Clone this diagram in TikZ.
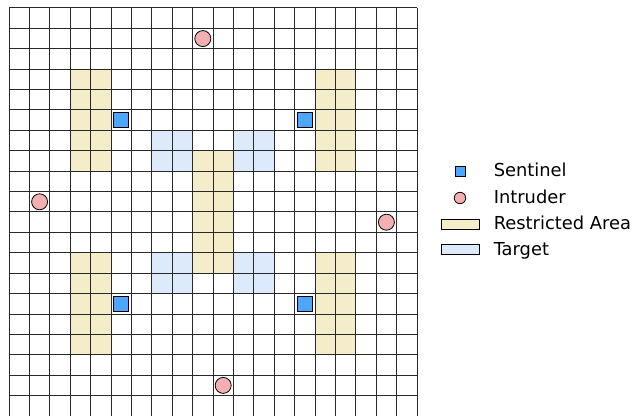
\documentclass[tikz,border=0pt]{standalone}
\usepackage{fontspec}
\setmainfont{DejaVu Sans}
\definecolor{restr}{RGB}{245,237,201}
\definecolor{targ}{RGB}{220,234,252}
\definecolor{sent}{RGB}{77,166,255}
\definecolor{intr}{RGB}{244,176,176}
\definecolor{gridc}{RGB}{40,40,40}
\begin{document}
\begin{tikzpicture}[x=0.75pt,y=-0.75pt,
  sentinel/.style={draw=black,fill=sent,line width=0.8pt,minimum size=11.6pt,inner sep=0pt,outer sep=0pt,rectangle},
  intruder/.style={draw=black,fill=intr,line width=0.6pt,minimum size=12pt,inner sep=0pt,circle},
  lsent/.style={sentinel,minimum size=7.6pt,line width=0.6pt},
  lintr/.style={intruder,minimum size=8.6pt},
  lpatch/.style={draw=black,line width=0.6pt,minimum width=28pt,minimum height=7.2pt,inner sep=0pt},
  ltext/.style={anchor=base west,inner sep=0pt,font=\fontsize{13.4}{16}\selectfont},
  gridline/.style={draw=gridc,line width=0.75pt}]
\useasboundingbox (0,0) rectangle (634,416);
\fill[white] (0,0) rectangle (634,416);
% cell size 20.4px, origin (9,8)
\def\cs{20.4}
% restricted areas
\foreach \c/\r/\w/\h in {3/3/2/5, 15/3/2/5, 9/7/2/6, 3/12/2/5, 15/12/2/5}{
  \fill[restr] ({9+\c*\cs},{8+\r*\cs}) rectangle ({9+(\c+\w)*\cs},{8+(\r+\h)*\cs});
}
% targets
\foreach \c/\r in {7/6, 11/6, 7/12, 11/12}{
  \fill[targ] ({9+\c*\cs},{8+\r*\cs}) rectangle ({9+(\c+2)*\cs},{8+(\r+2)*\cs});
}
% grid
\foreach \i in {0,...,20}{
  \draw[gridline] ({9+\i*\cs},8) -- ({9+\i*\cs},416);
  \draw[gridline] (9,{8+\i*\cs}) -- (417,{8+\i*\cs});
}
% sentinels
\node[sentinel] (s1) at ({9+5.5*\cs},{8+5.5*\cs}) {};
\node[sentinel] (s2) at ({9+14.5*\cs},{8+5.5*\cs}) {};
\node[sentinel] (s3) at ({9+5.5*\cs},{8+14.5*\cs}) {};
\node[sentinel] (s4) at ({9+14.5*\cs},{8+14.5*\cs}) {};
% intruders
\node[intruder] (i1) at ({9+9.5*\cs},{8+1.5*\cs}) {};
\node[intruder] (i2) at ({9+1.5*\cs},{8+9.5*\cs}) {};
\node[intruder] (i3) at ({9+18.5*\cs},{8+10.5*\cs}) {};
\node[intruder] (i4) at ({9+10.5*\cs},{8+18.5*\cs}) {};
% legend
\node[lsent] (ls) at (460,171) {};
\node[lintr] (li) at (460,198) {};
\node[lpatch,fill=restr] (lr) at (460.5,224.2) {};
\node[lpatch,fill=targ] (lt) at (460.5,249.7) {};
\node[ltext] (ts) at (493.5,177) {Sentinel};
\node[ltext] (ti) at (493.5,203.3) {Intruder};
\node[ltext] (tr) at (493.5,230) {Restricted Area};
\node[ltext] (tt) at (493.5,256) {Target};
\end{tikzpicture}
\end{document}
